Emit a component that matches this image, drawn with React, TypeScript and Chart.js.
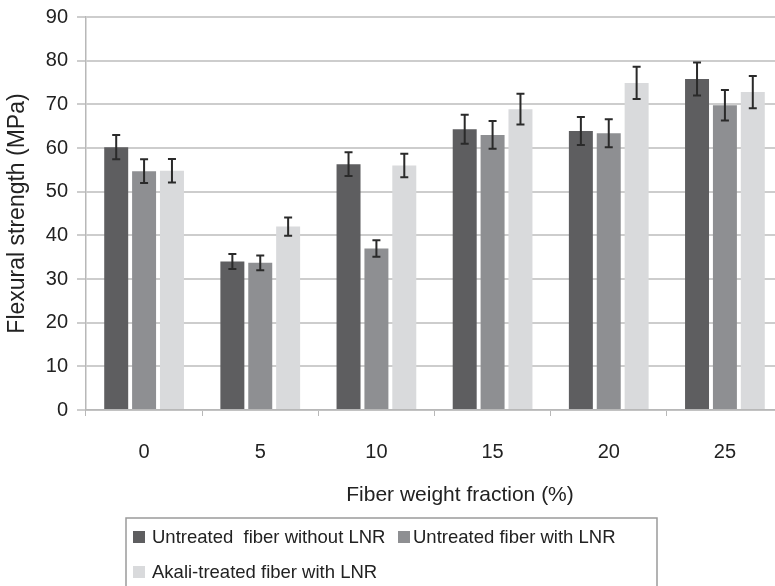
import React, { useEffect, useRef } from "react";
import { Chart, registerables } from "chart.js";

Chart.register(...registerables);

const categories = ["0", "5", "10", "15", "20", "25"];
const seriesLabels = [
  "Untreated  fiber without LNR",
  "Untreated fiber with LNR",
  "Akali-treated fiber with LNR",
];
const untreatedWithout = [60.2, 34.0, 56.3, 64.3, 63.9, 75.8];
const untreatedWith = [54.7, 33.7, 37.0, 63.0, 63.4, 69.8];
const alkaliWith = [54.8, 42.0, 56.0, 68.9, 74.9, 72.8];
const errUntreatedWithout = [2.8, 1.7, 2.7, 3.3, 3.2, 3.8];
const errUntreatedWith = [2.7, 1.7, 1.9, 3.2, 3.2, 3.5];
const errAlkaliWith = [2.7, 2.1, 2.7, 3.5, 3.7, 3.7];
const seriesColors = ["#5e5e60", "#8e8f92", "#d9dadc"];
const xTitle = "Fiber weight fraction (%)";
const yTitle = "Flexural strength (MPa)";

const FONT = "'Liberation Sans', Arial, Helvetica, sans-serif";

const errorBarPlugin = {
  id: "errorBars",
  afterDatasetsDraw(chart: any) {
    const ctx = chart.ctx;
    const yScale = chart.scales.y;
    ctx.save();
    ctx.strokeStyle = "#2a2a2a";
    ctx.lineWidth = 2;
    chart.data.datasets.forEach((ds: any, i: number) => {
      const meta = chart.getDatasetMeta(i);
      meta.data.forEach((bar: any, j: number) => {
        const v = ds.data[j];
        const e = ds.errors[j];
        const top = yScale.getPixelForValue(v + e);
        const bot = yScale.getPixelForValue(v - e);
        const x = bar.x;
        const cap = 4;
        ctx.beginPath();
        ctx.moveTo(x, top);
        ctx.lineTo(x, bot);
        ctx.moveTo(x - cap, top);
        ctx.lineTo(x + cap, top);
        ctx.moveTo(x - cap, bot);
        ctx.lineTo(x + cap, bot);
        ctx.stroke();
      });
    });
    ctx.restore();
  },
};

const bottomPlugin = {
  id: "bottomText",
  afterDraw(chart: any) {
    const ctx = chart.ctx;
    ctx.save();
    ctx.fillStyle = "#222";
    ctx.font = `21px ${FONT}`;
    ctx.textAlign = "center";
    ctx.textBaseline = "middle";
    ctx.fillText(xTitle, 460, 495);
    ctx.strokeStyle = "#9a9a9a";
    ctx.lineWidth = 1.5;
    ctx.strokeRect(126, 518, 531, 120);
    ctx.font = `18.5px ${FONT}`;
    ctx.textAlign = "left";
    const items = [
      { x: 133, y: 537 },
      { x: 398, y: 537 },
      { x: 133, y: 572 },
    ];
    chart.data.datasets.forEach((ds: any, i: number) => {
      const it = items[i];
      ctx.fillStyle = ds.backgroundColor;
      ctx.fillRect(it.x, it.y - 6, 12, 12);
      ctx.fillStyle = "#222";
      ctx.fillText(ds.label, it.x + (i === 1 ? 15 : 19), it.y + 1);
    });
    ctx.restore();
  },
};

export default function App() {
  const ref = useRef<HTMLCanvasElement>(null);
  useEffect(() => {
    if (!ref.current) return;
    const chart = new Chart(ref.current, {
      type: "bar",
      data: {
        labels: categories,
        datasets: [
          { label: seriesLabels[0], data: untreatedWithout, errors: errUntreatedWithout, backgroundColor: seriesColors[0] } as any,
          { label: seriesLabels[1], data: untreatedWith, errors: errUntreatedWith, backgroundColor: seriesColors[1] } as any,
          { label: seriesLabels[2], data: alkaliWith, errors: errAlkaliWith, backgroundColor: seriesColors[2] } as any,
        ],
      },
      options: {
        animation: false,
        responsive: false,
        devicePixelRatio: 1,
        layout: { padding: { top: 17, right: 17, left: 0, bottom: 0 } },
        datasets: { bar: { categoryPercentage: 0.72, barPercentage: 0.86 } },
        plugins: { legend: { display: false }, tooltip: { enabled: false } },
        scales: {
          x: {
            grid: { drawOnChartArea: false, drawTicks: true, tickLength: 6, color: "#b8b8b8", lineWidth: 1 },
            border: { color: "#b8b8b8", width: 1.5 },
            ticks: { font: { size: 20, family: FONT }, color: "#222", padding: 24 },
            afterFit: (s: any) => { s.height = 176; },
          },
          y: {
            min: 0,
            max: 90,
            ticks: { stepSize: 10, font: { size: 20, family: FONT, lineHeight: 1 }, color: "#222", padding: 9 },
            grid: { color: "#cdcdcd", lineWidth: 2, tickLength: 9 },
            border: { color: "#b8b8b8", width: 1.5 },
            title: { display: true, text: yTitle, font: { size: 23, family: FONT }, color: "#222", padding: { top: 4, bottom: 0 } },
            afterFit: (s: any) => { s.width = 86; s.paddingTop = 0; },
          },
        },
      },
      plugins: [errorBarPlugin, bottomPlugin],
    } as any);
    return () => chart.destroy();
  }, []);
  return (
    <div style={{ position: "fixed", left: 0, top: 0, width: 800, height: 586, background: "#fff" }}>
      <canvas ref={ref} width={800} height={586} style={{ width: 800, height: 586 }} />
    </div>
  );
}
